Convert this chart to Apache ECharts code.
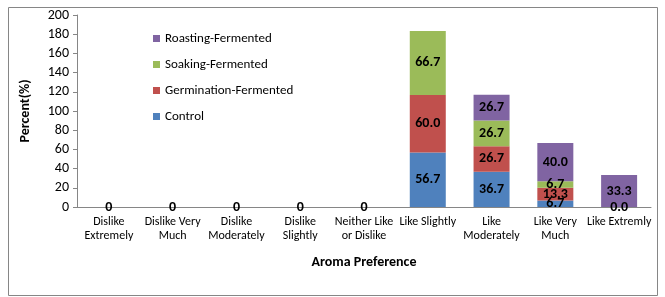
<!DOCTYPE html>
<html>
<head>
<meta charset="utf-8">
<script src="https://cdn.jsdelivr.net/npm/echarts@6/dist/echarts.min.js"></script>
<style>
  html, body { margin: 0; padding: 0; background: #fff; }
  #main { width: 665px; height: 297px; }
</style>
</head>
<body>
<div id="main"></div>
<script>
var categories = ['Dislike\nExtremely', 'Dislike Very\nMuch', 'Dislike\nModerately', 'Dislike\nSlightly',
  'Neither Like\nor Dislike', 'Like Slightly', 'Like\nModerately', 'Like Very\nMuch', 'Like Extremly'];
var control = [0, 0, 0, 0, 0, 56.7, 36.7, 6.7, 0];
var germination = [0, 0, 0, 0, 0, 60.0, 26.7, 13.3, 0];
var soaking = [0, 0, 0, 0, 0, 66.7, 26.7, 6.7, 0];
var roasting = [0, 0, 0, 0, 0, 0, 26.7, 40.0, 33.3];
var yTicks = [0, 20, 40, 60, 80, 100, 120, 140, 160, 180, 200];

var font = 'Carlito, "Liberation Sans", sans-serif';

function makeSeries(name, data, color, zeroText) {
  return {
    name: name,
    type: 'bar',
    stack: 'all',
    barWidth: 36,
    data: data,
    itemStyle: { color: color },
    label: {
      show: true,
      position: 'inside',
      color: '#000',
      fontWeight: 'bold',
      fontSize: 14,
      fontFamily: font,
      formatter: function (p) {
        if (p.value === 0) {
          return zeroText ? zeroText(p.dataIndex) : '';
        }
        return p.value.toFixed(1);
      }
    }
  };
}

var chart = echarts.init(document.getElementById('main'));
chart.setOption({
  animation: false,
  textStyle: { fontFamily: font },
  graphic: [{
    type: 'rect',
    shape: { x: 8.5, y: 7.5, width: 649, height: 288 },
    style: { fill: 'none', stroke: '#868686', lineWidth: 1 },
    silent: true
  }],
  grid: { left: 77, right: 14, top: 15, bottom: 90 },
  legend: {
    orient: 'vertical',
    left: 148,
    top: 27,
    itemWidth: 7,
    itemHeight: 7,
    itemGap: 13,
    icon: 'rect',
    textStyle: { fontSize: 13, color: '#000', fontFamily: font },
    data: ['Roasting-Fermented', 'Soaking-Fermented', 'Germination-Fermented', 'Control']
  },
  xAxis: {
    type: 'category',
    data: categories,
    name: 'Aroma Preference',
    nameLocation: 'middle',
    nameGap: 48,
    nameTextStyle: { fontWeight: 'bold', fontSize: 14, color: '#000' },
    axisLine: { lineStyle: { color: '#868686' } },
    axisTick: { show: false },
    axisLabel: { color: '#000', fontSize: 12, interval: 0, lineHeight: 14, margin: 8 }
  },
  yAxis: {
    type: 'value',
    min: yTicks[0],
    max: yTicks[yTicks.length - 1],
    interval: 20,
    name: 'Percent(%)',
    nameLocation: 'middle',
    nameGap: 45,
    nameTextStyle: { fontWeight: 'bold', fontSize: 14, color: '#000' },
    axisLine: { show: true, lineStyle: { color: '#868686' } },
    axisTick: { show: true, length: 4, lineStyle: { color: '#868686' } },
    axisLabel: { color: '#000', fontSize: 14, margin: 8 },
    splitLine: { show: false }
  },
  series: [
    makeSeries('Control', control, '#4F81BD', function (i) { return i < 5 ? '0' : '0.0'; }),
    makeSeries('Germination-Fermented', germination, '#C0504D'),
    makeSeries('Soaking-Fermented', soaking, '#9BBB59'),
    makeSeries('Roasting-Fermented', roasting, '#8064A2')
  ]
});
</script>
</body>
</html>
